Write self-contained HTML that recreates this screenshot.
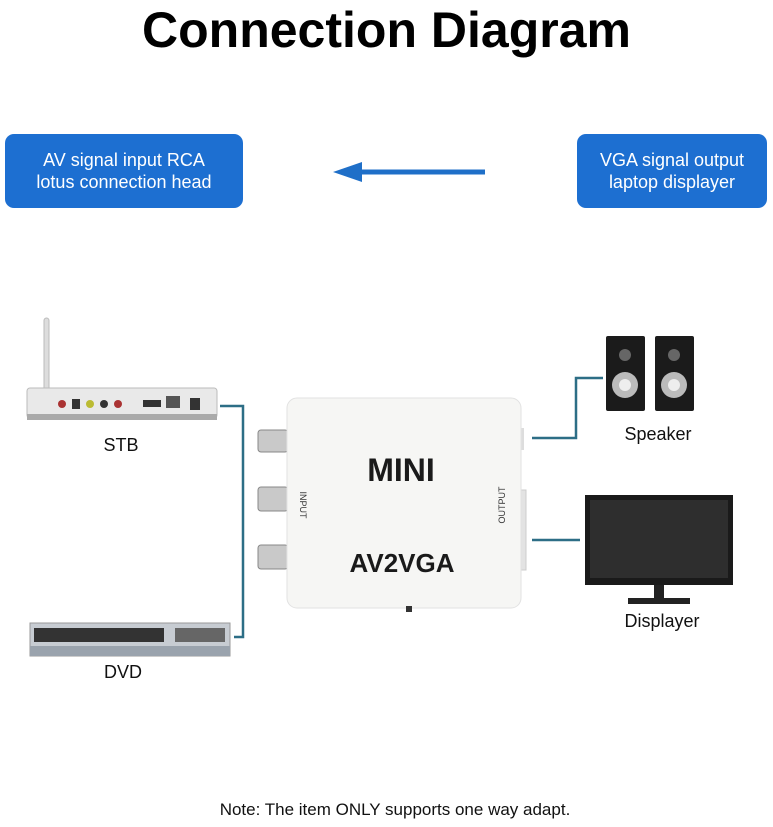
<!DOCTYPE html><html><head><style>
body{margin:0;width:773px;height:827px;background:#fff;position:relative;overflow:hidden;font-family:"Liberation Sans","DejaVu Sans",sans-serif}
.a{position:absolute}
.box{position:absolute;background:#1d6fd1;border-radius:9px;color:#fff;font-size:18px;line-height:22px;text-align:center;display:flex;align-items:center;justify-content:center}
.lbl{position:absolute;font-size:18px;color:#111;transform:translateX(-50%)}
</style></head><body>
<div class="a" style="left:0;width:773px;top:0;text-align:center;font-size:50px;font-weight:bold;line-height:60px;color:#000">Connection Diagram</div>
<div class="box" style="left:5px;top:134px;width:238px;height:74px">AV signal input RCA<br>lotus connection head</div>
<div class="box" style="left:577px;top:134px;width:190px;height:74px">VGA signal output<br>laptop displayer</div>
<svg class="a" style="left:0;top:0" width="773" height="827">
<line x1="485" y1="172" x2="350" y2="172" stroke="#1f6fc8" stroke-width="5"/>
<polygon points="333,172 362,162 362,182" fill="#1f6fc8"/>
<g stroke="#2d6e86" stroke-width="2.5" fill="none">
<polyline points="220,406 243,406 243,637 234,637"/>
<polyline points="532,438 576,438 576,378 603,378"/>
<line x1="532" y1="540" x2="580" y2="540"/>
</g>
<!-- STB -->
<rect x="44" y="318" width="5" height="84" rx="2.5" fill="#ddd" stroke="#bbb"/>
<rect x="27" y="388" width="190" height="30" rx="3" fill="#e9e9e9" stroke="#bbb"/>
<rect x="27" y="414" width="190" height="6" fill="#aaa"/>
<g fill="#333"><circle cx="62" cy="404" r="4" fill="#a33"/><rect x="72" y="399" width="8" height="10"/><circle cx="90" cy="404" r="4" fill="#bb3"/><circle cx="104" cy="404" r="4"/><circle cx="118" cy="404" r="4" fill="#a33"/><rect x="143" y="400" width="18" height="7"/><rect x="166" y="396" width="14" height="12" fill="#555"/><rect x="190" y="398" width="10" height="12"/></g>
<!-- DVD -->
<rect x="30" y="623" width="200" height="33" fill="#c7ccd2" stroke="#999"/>
<rect x="34" y="628" width="130" height="14" fill="#333"/>
<rect x="175" y="628" width="50" height="14" fill="#666"/>
<rect x="30" y="646" width="200" height="10" fill="#9aa3ad"/>
<!-- converter -->
<g fill="#c9c9c9" stroke="#888"><rect x="258" y="430" width="30" height="22" rx="3"/><rect x="258" y="487" width="30" height="24" rx="3"/><rect x="258" y="545" width="30" height="24" rx="3"/></g>
<rect x="516" y="428" width="8" height="22" fill="#ddd"/><rect x="516" y="490" width="10" height="80" fill="#e3e3e3" stroke="#ccc"/>
<rect x="287" y="398" width="234" height="210" rx="10" fill="#f6f6f4" stroke="#e2e2e2"/>
<rect x="406" y="606" width="6" height="6" fill="#333"/>
<text x="401" y="481" font-size="32" font-weight="bold" text-anchor="middle" fill="#1a1a1a" font-family="Liberation Sans">MINI</text>
<text x="402" y="572" font-size="26" font-weight="bold" text-anchor="middle" fill="#1a1a1a" font-family="Liberation Sans">AV2VGA</text>
<text transform="translate(300,505) rotate(90)" font-size="9" text-anchor="middle" fill="#333">INPUT</text>
<text transform="translate(505,505) rotate(-90)" font-size="9" text-anchor="middle" fill="#333">OUTPUT</text>
<!-- speakers -->
<g><rect x="606" y="336" width="39" height="75" rx="2" fill="#1b1b1b"/><circle cx="625" cy="355" r="6" fill="#666"/><circle cx="625" cy="385" r="13" fill="#bbb"/><circle cx="625" cy="385" r="6" fill="#eee"/>
<rect x="655" y="336" width="39" height="75" rx="2" fill="#1b1b1b"/><circle cx="674" cy="355" r="6" fill="#666"/><circle cx="674" cy="385" r="13" fill="#bbb"/><circle cx="674" cy="385" r="6" fill="#eee"/></g>
<!-- monitor -->
<rect x="585" y="495" width="148" height="90" fill="#1a1a1a"/><rect x="590" y="500" width="138" height="78" fill="#2e2e2e"/>
<rect x="654" y="585" width="10" height="14" fill="#222"/><rect x="628" y="598" width="62" height="6" fill="#222"/>
</svg>
<div class="lbl" style="left:121px;top:435px">STB</div>
<div class="lbl" style="left:123px;top:662px">DVD</div>
<div class="lbl" style="left:658px;top:424px">Speaker</div>
<div class="lbl" style="left:662px;top:611px">Displayer</div>
<div class="a" style="left:0;width:790px;top:800px;text-align:center;font-size:17px;color:#111">Note: The item ONLY supports one way adapt.</div>
</body></html>
